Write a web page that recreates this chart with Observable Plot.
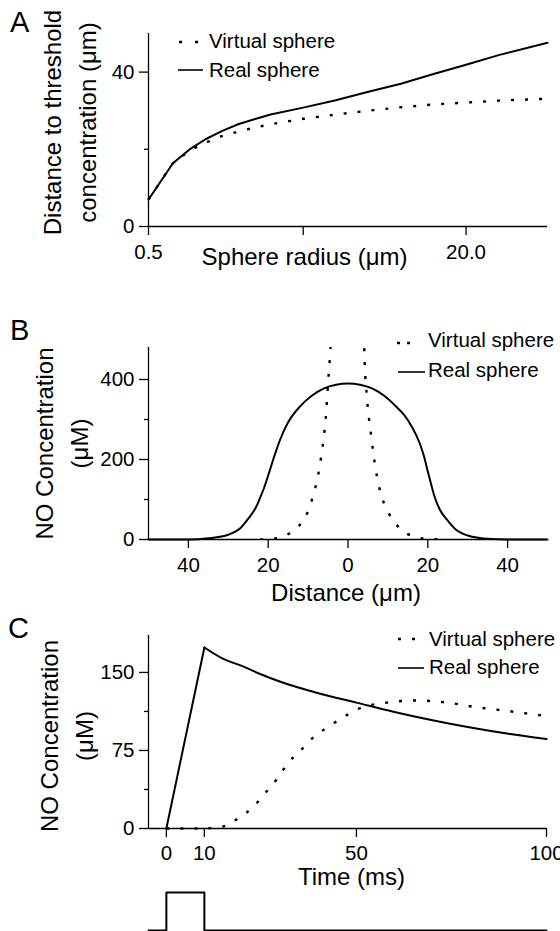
<!DOCTYPE html>
<html><head><meta charset="utf-8">
<script src="https://cdn.jsdelivr.net/npm/d3@7"></script>
<script src="https://cdn.jsdelivr.net/npm/@observablehq/plot@0.6"></script>
<style>
body{margin:0;background:#fff;}
#root{position:relative;width:560px;height:931px;overflow:hidden;background:#fff;}
#root > svg, #root > div{position:absolute;left:0;}
</style></head><body><div id="root"></div>
<script>
// ---------- Panel A ----------
const radiusA  = [0.5, 2, 3, 4, 5, 6, 7, 8, 10, 12, 14, 16, 18, 20, 22, 25];
const realA    = [7.0, 16.4, 19.9, 22.6, 24.7, 26.5, 27.8, 29.0, 30.8, 32.7, 34.9, 37.0, 39.5, 41.9, 44.4, 47.6];
const virtualA = [7.0, 16.4, 19.6, 21.7, 23.4, 24.6, 25.6, 26.5, 27.9, 29.0, 30.0, 30.9, 31.6, 32.1, 32.6, 33.1];
const ticksAX = [0.5, 10, 20];
const labelsAX = ["0.5", "", "20.0"];
const ticksAY = [0, 40];
const minorAY = [20];

// ---------- Panel B ----------
const distRealB = [-50,-40,-35,-30,-27,-25,-23,-22,-21,-20,-19,-18,-17,-15,-12,-9,-6,-3,0,3,6,9,12,14,16,18,19.1,20,21,21.6,23,25,27,30,33,35,40,50];
const realB     = [0,0,3,12,28,52,82,105,130,160,192,222,250,293,333,360,378,387,390,387,378,360,333,312,282,240,206,170,132,110,75,47,25,10,4,2,0,0];
const distVirtualB = [-22,-19,-17,-14.25,-12.5,-10.9,-9.5,-8.4,-7.5,-6.75,-6,-5.5,-5,-4.4,-4,4,4.1,4.75,5.75,7,8.25,9.9,12,14.9,17,19,22,25];
const virtualB     = [0,2,5,18,32,52,85,122,160,206,262,314,390,477,560,560,468,356,264,172,114,72,39,14,6,2,0.5,0];
const ticksBX = [-40, -20, 0, 20, 40];
const ticksBY = [0, 200, 400];
const minorBY = [100, 300];

// ---------- Panel C ----------
const timeRealC = [0,10,15,20,25,30,40,50,60,70,80,90,100];
const realC     = [0,174,163,156,148,141,130,121,112,104,97,91,86];
const timeVirtualC = [0,10,12,15,19,22.6,26,29.2,31.8,35.3,38.8,43.1,46.6,50.5,58,66,74,80.8,89.7,100];
const virtualC     = [0,0,0.5,2,10,20,34,48,62,75,88,99,107,115,121,123,121,117,113,108];
const ticksCX = [0, 10, 50, 100];
const ticksCY = [0, 75, 150];
const minorCY = [37.5, 112.5];
const pulseEnd = 10; // stimulus ends at 10 ms
// stimulus pulse (0–10 ms)
const stimTime  = [-4.7, 0, 0, 10, 10, 100];
const stimLevel = [0, 0, 1, 1, 0, 0];

// ---------- Text ----------
const seriesNames = ["Virtual sphere", "Real sphere"];
const panelLetters = ["A", "B", "C"];
const yTitleA = "Distance to threshold\nconcentration (\u03bcm)";
const xTitleA = "Sphere radius (\u03bcm)";
const yTitleBC = "NO Concentration\n(\u03bcM)";
const xTitleB = "Distance (\u03bcm)";
const xTitleC = "Time (ms)";

const FONT = '"Liberation Sans", Arial, Helvetica, sans-serif';
const root = document.getElementById("root");
const zip = (xs, ys) => xs.map((x, i) => ({x, y: ys[i]}));
const TICKFS = 20.5;
const baseStyle = {fontFamily: FONT, fontSize: TICKFS + "px", color: "black", background: "transparent", overflow: "visible"};
const AX = {strokeWidth: 1.3, fontSize: TICKFS, label: null};
const DOT = {x: "x", y: "y", stroke: "black", strokeWidth: 2.4, strokeDasharray: "3,11", strokeLinecap: "butt"};
const SOL = {x: "x", y: "y", stroke: "black", strokeWidth: 2};
const TITLE = {fontSize: 24, textAnchor: "middle", lineAnchor: "middle", fill: "black"};

function place(el, top) { el.style.top = top + "px"; root.appendChild(el); }

// Panel A
place(Plot.plot({
  width: 560, height: 290, marginLeft: 148, marginRight: 13, marginTop: 33, marginBottom: 64,
  style: baseStyle,
  x: {domain: [0.5, 25]},
  y: {domain: [0, 50]},
  marks: [
    Plot.ruleX([0.5], {strokeWidth: 1.3}),
    Plot.ruleY([0], {strokeWidth: 1.3}),
    Plot.axisY({...AX, ticks: ticksAY, tickSize: 9, tickPadding: 5}),
    Plot.axisY({...AX, ticks: minorAY, tickSize: 4, tickFormat: () => ""}),
    Plot.axisX({...AX, ticks: ticksAX, tickSize: 9, tickPadding: 9, tickFormat: d => labelsAX[ticksAX.indexOf(d)]}),
    Plot.line(zip(radiusA, virtualA), DOT),
    Plot.line(zip(radiusA, realA), SOL),
    Plot.text([yTitleA], {...TITLE, text: d => d, frameAnchor: "left", rotate: -90, dx: -81.5, dy: -7.5, lineHeight: 1.45}),
    Plot.text([xTitleA], {...TITLE, text: d => d, frameAnchor: "bottom", dx: -43.5, dy: 30.5})
  ]
}), 0);

// Panel B
place(Plot.plot({
  width: 560, height: 320, marginLeft: 148, marginRight: 13, marginTop: 57, marginBottom: 71,
  style: baseStyle,
  x: {domain: [-50, 50]},
  y: {domain: [0, 480]},
  marks: [
    Plot.ruleX([-50], {strokeWidth: 1.3}),
    Plot.ruleY([0], {strokeWidth: 1.3}),
    Plot.axisY({...AX, ticks: ticksBY, tickSize: 9, tickPadding: 5}),
    Plot.axisY({...AX, ticks: minorBY, tickSize: 4, tickFormat: () => ""}),
    Plot.axisX({...AX, ticks: ticksBX, tickSize: 9, tickPadding: 9, tickFormat: d => String(Math.abs(d))}),
    Plot.line(zip(distVirtualB, virtualB), {...DOT, curve: "monotone-x", clip: true}),
    Plot.line(zip(distRealB, realB), {...SOL, curve: "monotone-x"}),
    Plot.text([yTitleBC], {...TITLE, text: d => d, frameAnchor: "left", rotate: -90, dx: -89, dy: 0, lineHeight: 1.45}),
    Plot.text([xTitleB], {...TITLE, text: d => d, frameAnchor: "bottom", dx: -2, dy: 53.5})
  ]
}), 290);

// Panel C
const realCData = zip(timeRealC, realC);
place(Plot.plot({
  width: 560, height: 290, marginLeft: 148, marginRight: 14, marginTop: 45, marginBottom: 52,
  style: baseStyle,
  x: {domain: [-4.7, 100]},
  y: {domain: [0, 185.5]},
  marks: [
    Plot.ruleX([-4.7], {strokeWidth: 1.3}),
    Plot.ruleY([0], {strokeWidth: 1.3}),
    Plot.axisY({...AX, ticks: ticksCY, tickSize: 9, tickPadding: 5}),
    Plot.axisY({...AX, ticks: minorCY, tickSize: 4, tickFormat: () => ""}),
    Plot.axisX({...AX, ticks: ticksCX, tickSize: 9, tickPadding: 8}),
    Plot.line(zip(timeVirtualC, virtualC), {...DOT, curve: "monotone-x"}),
    Plot.line(realCData.filter(d => d.x <= pulseEnd), SOL),
    Plot.line(realCData.filter(d => d.x >= pulseEnd), {...SOL, curve: "monotone-x"}),
    Plot.text([yTitleBC], {...TITLE, text: d => d, frameAnchor: "left", rotate: -90, dx: -84.5, dy: 4, lineHeight: 1.45}),
    Plot.text([xTitleC], {...TITLE, text: d => d, frameAnchor: "bottom", dx: 4, dy: 49})
  ]
}), 590);

// Stimulus trace
place(Plot.plot({
  width: 560, height: 51, marginLeft: 148, marginRight: 14, marginTop: 12, marginBottom: 1,
  style: baseStyle,
  x: {domain: [-4.7, 100], axis: null},
  y: {domain: [0, 1], axis: null},
  marks: [Plot.line(zip(stimTime, stimLevel), {x: "x", y: "y", stroke: "black", strokeWidth: 2})]
}), 880);

// Overlay: panel letters and legends
const ns = "http://www.w3.org/2000/svg";
const ov = document.createElementNS(ns, "svg");
ov.setAttribute("width", 560); ov.setAttribute("height", 931);
ov.style.top = "0px"; ov.style.pointerEvents = "none";
ov.setAttribute("font-family", FONT);
root.appendChild(ov);
function el(tag, attrs, txt) {
  const e = document.createElementNS(ns, tag);
  for (const k in attrs) e.setAttribute(k, attrs[k]);
  if (txt != null) e.textContent = txt;
  ov.appendChild(e); return e;
}
const letterPos = [[10, 32], [10, 340], [8, 638]];
panelLetters.forEach((L, i) => el("text", {x: letterPos[i][0], y: letterPos[i][1], "font-size": 29, fill: "black"}, L));
const legends = [
  {dot: [179, 198, 42, "3,13"], vText: [209, 48], sol: [178, 203, 70], rText: [209, 77]},
  {dot: [397, 411, 343, "3,7"],  vText: [428, 347], sol: [398, 425, 372], rText: [428, 377]},
  {dot: [398, 416, 639, "3,11"], vText: [429, 646], sol: [398, 424, 668], rText: [429, 674]}
];
legends.forEach(g => {
  el("line", {x1: g.dot[0], x2: g.dot[1], y1: g.dot[2], y2: g.dot[2], stroke: "black", "stroke-width": 2.4, "stroke-dasharray": g.dot[3]});
  el("text", {x: g.vText[0], y: g.vText[1], "font-size": 20.5, fill: "black"}, seriesNames[0]);
  el("line", {x1: g.sol[0], x2: g.sol[1], y1: g.sol[2], y2: g.sol[2], stroke: "black", "stroke-width": 1.6});
  el("text", {x: g.rText[0], y: g.rText[1], "font-size": 20.5, fill: "black"}, seriesNames[1]);
});
</script>
</body></html>
